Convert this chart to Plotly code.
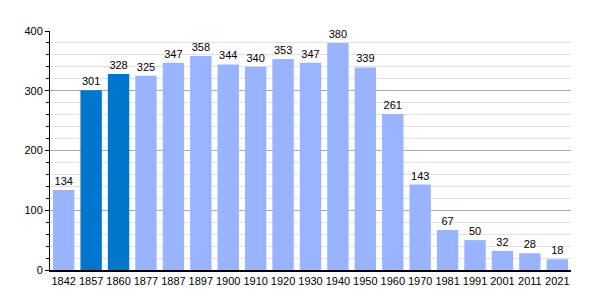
import plotly.graph_objects as go

years = ["1842", "1857", "1860", "1877", "1887", "1897", "1900", "1910", "1920", "1930",
         "1940", "1950", "1960", "1970", "1981", "1991", "2001", "2011", "2021"]
population = [134, 301, 328, 325, 347, 358, 344, 340, 353, 347, 380, 339, 261, 143, 67, 50, 32, 28, 18]
highlight = ["1857", "1860"]

colors = ["#0077cc" if y in highlight else "#99b3ff" for y in years]

fig = go.Figure(go.Bar(
    x=years, y=population, marker=dict(color=colors, line=dict(width=0)),
    text=[str(v) for v in population], textposition="outside",
    textfont=dict(family="Liberation Sans, Arial", size=11, color="#000"),
    cliponaxis=False, width=0.78,
))

fig.update_layout(
    width=600, height=300,
    margin=dict(l=50, r=29, t=31, b=30),
    plot_bgcolor="white", paper_bgcolor="white",
    font=dict(family="Liberation Sans, Arial", size=11, color="#000"),
    showlegend=False,
    bargap=0.22,
)
fig.update_xaxes(
    type="category", showline=True, linecolor="#000", linewidth=1.5,
    ticks="", tickfont=dict(size=11), showgrid=False,
)
fig.update_yaxes(
    range=[0, 400], dtick=100, showline=True, linecolor="#000", linewidth=1,
    ticks="outside", ticklen=4, tickcolor="#000",
    gridcolor="#aaaaaa", gridwidth=1, zeroline=False,
    minor=dict(dtick=20, showgrid=True, gridcolor="#e0e0e0", ticks="outside", ticklen=3, tickcolor="#000"),
    tickfont=dict(size=11),
)

fig.write_html("out.html")
